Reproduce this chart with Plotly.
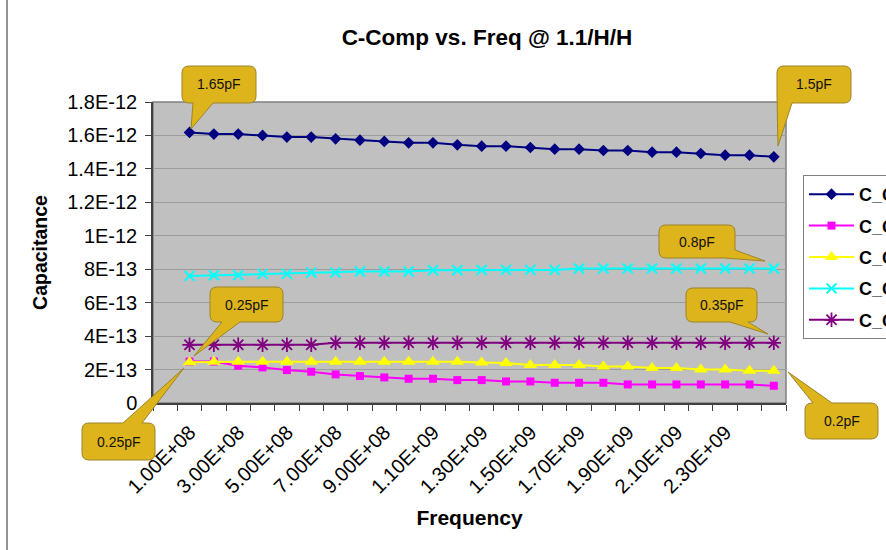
import plotly.graph_objects as go

# ---------------- data ----------------
freq_hz = [1, 5e7, 1e8, 2e8, 3e8, 4e8, 5e8, 6e8, 7e8, 8e8, 9e8, 1.0e9, 1.1e9, 1.2e9,
           1.3e9, 1.4e9, 1.5e9, 1.6e9, 1.7e9, 1.8e9, 1.9e9, 2.0e9, 2.1e9, 2.2e9, 2.3e9, 2.4e9]
categories = ["%g" % f if f < 10 else "%.2E" % f for f in freq_hz]
data_x = categories[1:]

series_names = ["C_Comp_1", "C_Comp_2", "C_Comp_3", "C_Comp_4", "C_Comp_5"]
c_navy = [1.618, 1.608, 1.608, 1.600, 1.590, 1.590, 1.580, 1.572, 1.564, 1.556, 1.556, 1.544, 1.536,
          1.536, 1.528, 1.518, 1.518, 1.510, 1.510, 1.500, 1.500, 1.492, 1.482, 1.482, 1.472]
c_magenta = [0.248, 0.248, 0.223, 0.213, 0.197, 0.187, 0.171, 0.161, 0.153, 0.145, 0.145, 0.137, 0.137,
             0.129, 0.129, 0.121, 0.121, 0.121, 0.111, 0.111, 0.111, 0.111, 0.111, 0.111, 0.103]
c_yellow = [0.243, 0.247, 0.247, 0.247, 0.247, 0.247, 0.247, 0.247, 0.247, 0.247, 0.247, 0.247, 0.242,
            0.239, 0.227, 0.227, 0.227, 0.218, 0.218, 0.209, 0.209, 0.201, 0.201, 0.193, 0.193]
c_cyan = [0.760, 0.764, 0.764, 0.772, 0.772, 0.780, 0.780, 0.786, 0.786, 0.786, 0.794, 0.794, 0.795,
          0.796, 0.796, 0.796, 0.804, 0.804, 0.804, 0.804, 0.804, 0.804, 0.804, 0.804, 0.804]
c_purple = [0.348, 0.348, 0.348, 0.348, 0.348, 0.348, 0.360, 0.360, 0.360, 0.360, 0.360, 0.360, 0.360,
            0.360, 0.360, 0.360, 0.360, 0.360, 0.360, 0.360, 0.360, 0.360, 0.360, 0.360, 0.360]
PF = 1e-12

y_tickvals = [0, 0.2e-12, 0.4e-12, 0.6e-12, 0.8e-12, 1.0e-12, 1.2e-12, 1.4e-12, 1.6e-12, 1.8e-12]
y_ticktext = ["0", "2E-13", "4E-13", "6E-13", "8E-13", "1E-12", "1.2E-12", "1.4E-12", "1.6E-12", "1.8E-12"]
x_ticktext = [c if i % 2 == 0 else "" for i, c in enumerate(categories)]

callout_texts = ["1.65pF", "1.5pF", "0.8pF", "0.35pF", "0.25pF", "0.25pF", "0.2pF"]

# ---------------- layout geometry (pixels) ----------------
FIG_W, FIG_H = 886, 550
ML, MR, MT, MB = 153, 100, 102, 147
PL, PR, PT, PB = ML, FIG_W - MR, MT, FIG_H - MB
PW, PH = PR - PL, PB - PT
FONT = "Liberation Sans, Arial, sans-serif"


def px(x):
    return (x - PL) / PW


def py(y):
    return (PB - y) / PH


def P(x, y):
    return "%.5f,%.5f" % (px(x), py(y))


def callout_path(box, side, base, tip, r=7):
    x0, y0, x1, y1 = box
    tx, ty = tip
    s = "M" + P(x0 + r, y0)
    if side == "top":
        a, b = base
        s += " L" + P(a, y0) + " L" + P(tx, ty) + " L" + P(b, y0)
    s += " L" + P(x1 - r, y0) + " Q" + P(x1, y0) + " " + P(x1, y0 + r)
    if side == "br":
        ra, bb = base
        s += " L" + P(x1, ra) + " L" + P(tx, ty) + " L" + P(bb, y1)
    else:
        s += " L" + P(x1, y1 - r) + " Q" + P(x1, y1) + " " + P(x1 - r, y1)
    if side == "bottom":
        a, b = base
        s += " L" + P(b, y1) + " L" + P(tx, ty) + " L" + P(a, y1)
    if side == "bl":
        bb, la = base
        s += " L" + P(bb, y1) + " L" + P(tx, ty) + " L" + P(x0, la)
    else:
        s += " L" + P(x0 + r, y1) + " Q" + P(x0, y1) + " " + P(x0, y1 - r)
    s += " L" + P(x0, y0 + r) + " Q" + P(x0, y0) + " " + P(x0 + r, y0) + " Z"
    return s


callouts = [
    ((182, 66, 256, 103), "bottom", (193, 213), (191, 129)),
    ((777, 66, 851, 103), "bl", (792, 95), (778, 146)),
    ((659, 225, 735, 258), "br", (250, 724), (765, 261)),
    ((686, 288, 757, 322), "bottom", (730, 748), (768, 334)),
    ((210, 287, 283, 322), "bottom", (222, 240), (194, 356)),
    ((82, 423, 155, 460), "top", (123, 142), (184, 368)),
    ((805, 403, 878, 439), "top", (813, 832), (788, 372)),
]

fig = go.Figure()

styles = [
    dict(color="#000080", symbol="diamond", size=9, line=dict(width=0)),
    dict(color="#FF00FF", symbol="square", size=8, line=dict(width=0)),
    dict(color="#FFFF00", symbol="triangle-up", size=12, line=dict(width=0)),
    dict(color="#00FFFF", symbol="x-thin", size=10, line=dict(width=2, color="#00FFFF")),
    dict(color="#800080", symbol="asterisk", size=12, line=dict(width=1.8, color="#800080")),
]
line_colors = ["#000080", "#FF00FF", "#FFFF00", "#00FFFF", "#800080"]
all_series = [c_navy, c_magenta, c_yellow, c_cyan, c_purple]

for i, (name, vals) in enumerate(zip(series_names, all_series)):
    fig.add_trace(go.Scatter(
        x=data_x, y=[v * PF for v in vals], mode="lines+markers", name=name,
        legendgroup="g%d" % i,
        line=dict(color=line_colors[i], width=2),
        marker=styles[i],
    ))

shapes = []
# plot-area border (gray)
shapes.append(dict(type="rect", xref="paper", yref="paper", x0=0, y0=0, x1=1, y1=1,
                   line=dict(color="#808080", width=1.5), layer="below"))
# chart-area left border
shapes.append(dict(type="line", xref="paper", yref="paper", x0=px(7), x1=px(7), y0=py(0), y1=py(550),
                   line=dict(color="#6E6E6E", width=1.5)))

annotations = []
for (box, side, base, tip), txt in zip(callouts, callout_texts):
    shapes.append(dict(type="path", xref="paper", yref="paper", path=callout_path(box, side, base, tip),
                       fillcolor="#DDB41C", line=dict(color="#9C8428", width=1), layer="above"))
    cx = (box[0] + box[2]) / 2
    cy = (box[1] + box[3]) / 2
    annotations.append(dict(xref="paper", yref="paper", x=px(cx), y=py(cy), text=txt, showarrow=False,
                            xanchor="center", yanchor="middle",
                            font=dict(family=FONT, size=14, color="#111111")))

fig.update_layout(
    width=FIG_W, height=FIG_H,
    margin=dict(l=ML, r=MR, t=MT, b=MB, pad=0, autoexpand=False),
    paper_bgcolor="white", plot_bgcolor="#C0C0C0",
    font=dict(family=FONT, size=18, color="black"),
    title=dict(text="<b>C-Comp vs. Freq @ 1.1/H/H</b>", x=487 / FIG_W, xref="container", xanchor="center",
               y=1 - 37 / FIG_H, yref="container", yanchor="middle",
               font=dict(family=FONT, size=22.5, color="black")),
    xaxis=dict(
        type="category", categoryorder="array", categoryarray=categories,
        range=[-0.5, len(categories) - 0.5],
        tickmode="array", tickvals=categories, ticktext=x_ticktext,
        tickson="boundaries", ticks="outside", ticklen=6, tickcolor="#404040", tickwidth=1,
        tickangle=-45, tickfont=dict(family=FONT, size=20, color="black"),
        ticklabelshift=-24, ticklabelstandoff=8,
        showgrid=False, showline=True, linecolor="#404040", linewidth=1.5, zeroline=False,
        title=dict(text="<b>Frequency</b>", font=dict(family=FONT, size=21, color="black"), standoff=14),
    ),
    yaxis=dict(
        range=[0, 1.8e-12], tickmode="array", tickvals=y_tickvals, ticktext=y_ticktext,
        ticks="outside", ticklen=6, tickcolor="#404040", tickwidth=1,
        tickfont=dict(family=FONT, size=20, color="black"), ticklabelstandoff=4,
        showgrid=True, gridcolor="#9C9C9C", gridwidth=1,
        showline=True, linecolor="#404040", linewidth=1.5, zeroline=False,
        title=dict(text="<b>Capacitance</b>", font=dict(family=FONT, size=19.5, color="black"), standoff=14),
    ),
    legend=dict(
        x=px(803), y=py(175), xanchor="left", yanchor="top", xref="paper", yref="paper",
        bgcolor="white", bordercolor="#808080", borderwidth=1,
        font=dict(family=FONT, size=18, color="black", weight="bold"),
        tracegroupgap=5, itemwidth=45, traceorder="grouped",
    ),
    shapes=shapes, annotations=annotations,
    showlegend=True,
)

fig.write_html("out.html")
